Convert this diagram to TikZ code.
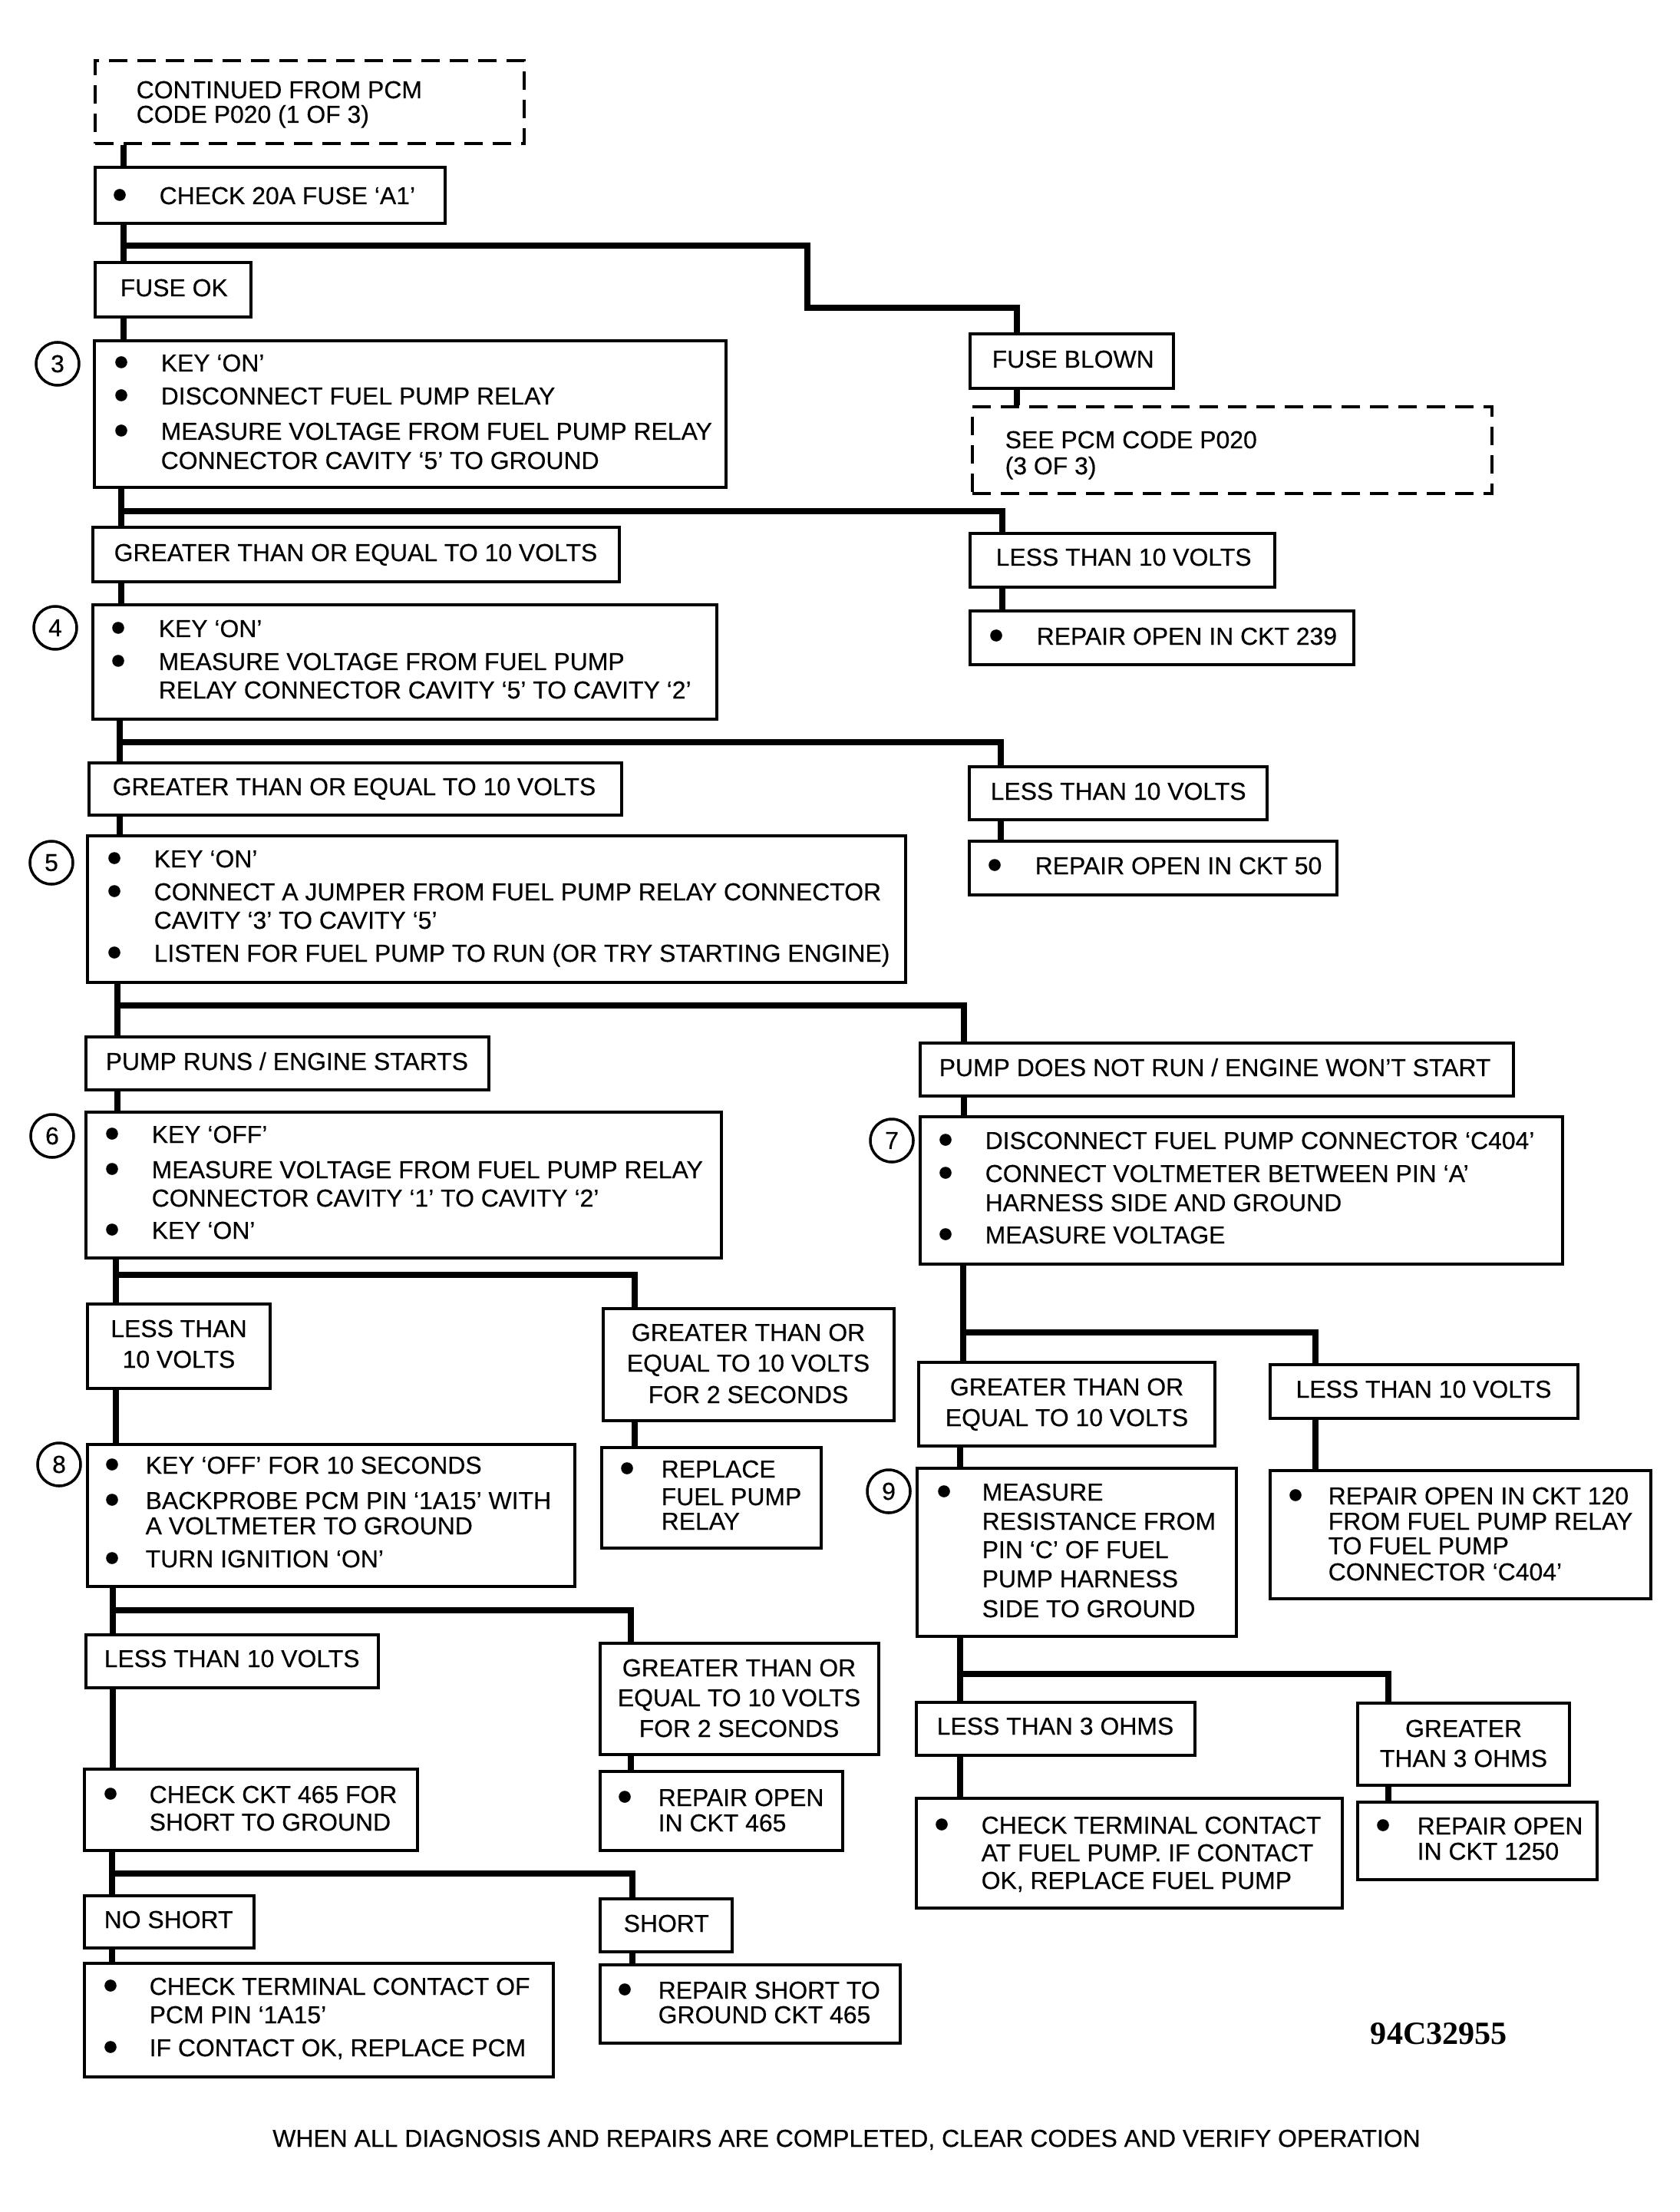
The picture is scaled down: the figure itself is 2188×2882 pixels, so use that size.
\documentclass[tikz,border=0pt]{standalone}
\usepackage{fontspec}
\setmainfont{Liberation Sans}[FakeBold=0.35]
\newfontfamily\idfont{Liberation Serif}
\usetikzlibrary{fit,calc}
\newcommand\fs{\fontsize{9.08pt}{11pt}\selectfont}
% box: name x1 y1 x2 y2
\newcommand\bx[6][box]{\node[#1, fit={(#3,#4)(#5,#6)}] (#2) {};}
% left text line: name x ycenter text
\newcommand\tl[4]{\node[txt,anchor=base west] (#1) at (#2,#3+12) {#4};}
% centred text line
\newcommand\tc[4]{\node[txt,anchor=base] (#1) at (#2,#3+12) {#4};}
% bullet
\newcommand\bu[2]{\fill (#1,#2) circle (0.78mm);}
\begin{document}
\begin{tikzpicture}[x=0.1mm,y=-0.1mm,
  box/.style={draw, line width=1.3pt, inner sep=0pt},
  dbox/.style={draw, line width=1.3pt, dash pattern=on 2.4mm off 1.3mm, inner sep=0pt},
  conn/.style={line width=2.4pt, line join=miter},
  txt/.style={inner sep=0pt, font=\fs},
  num/.style={circle, draw, line width=1pt, minimum size=5.6mm, inner sep=0pt, font=\fs}]
\path[fill=white] (0,0) rectangle (2188,2882);
\useasboundingbox (0,0) rectangle (2188,2882);

% ---------------- boxes (left column)
\bx[dbox]{d1}{124}{79}{683}{187}
\bx{chk}{124}{218}{580}{291}
\bx{fok}{124}{342}{327}{413}
\bx{b3}{123}{444}{946}{635}
\bx{g1}{121}{687}{807}{758}
\bx{b4}{121}{788}{934}{937}
\bx{g2}{116}{994}{810}{1062}
\bx{b5}{114}{1089}{1180}{1280}
\bx{prs}{112}{1351}{637}{1420}
\bx{b6}{112}{1449}{940}{1639}
\bx{lt3}{114}{1699}{352}{1809}
\bx{gs1}{786}{1705}{1165}{1851}
\bx{b8}{114}{1882}{749}{2067}
\bx{rep}{784}{1886}{1070}{2017}
\bx{lt4}{112}{2130}{493}{2199}
\bx{gs2}{782}{2141}{1145}{2286}
\bx{ck}{110}{2305}{544}{2411}
\bx{ro}{782}{2308}{1098}{2411}
\bx{ns}{110}{2470}{331}{2538}
\bx{sh}{782}{2474}{954}{2543}
\bx{ct}{110}{2558}{721}{2706}
\bx{rs}{782}{2560}{1173}{2662}
% ---------------- boxes (right column)
\bx{fb}{1264}{435}{1529}{506}
\bx[dbox]{d2}{1267}{530}{1944}{643}
\bx{lt1}{1264}{695}{1661}{765}
\bx{r239}{1264}{796}{1764}{866}
\bx{lt2}{1263}{999}{1651}{1068}
\bx{r50}{1263}{1096}{1742}{1166}
\bx{pdn}{1199}{1359}{1972}{1428}
\bx{b7}{1199}{1455}{2036}{1647}
\bx{gr}{1197}{1775}{1583}{1884}
\bx{lt5}{1655}{1778}{2056}{1848}
\bx{b9}{1195}{1913}{1611}{2132}
\bx{r120}{1655}{1916}{2151}{2083}
\bx{l3}{1194}{2218}{1557}{2287}
\bx{g3}{1769}{2219}{2045}{2326}
\bx{ctr}{1194}{2343}{1749}{2486}
\bx{r1250}{1769}{2348}{2081}{2449}

% ---------------- step numbers
\node[num] (n3) at (75,474) {3};
\node[num] (n4) at (72,818) {4};
\node[num] (n5) at (67,1124) {5};
\node[num] (n6) at (68,1480) {6};
\node[num] (n8) at (77,1908) {8};
\node[num] (n7) at (1162,1486) {7};
\node[num] (n9) at (1158,1943) {9};

% ---------------- junction coordinates
\coordinate (j1) at (161,320);
\coordinate (k1a) at (1052,320);
\coordinate (k1b) at (1052,401);
\coordinate (k1c) at (1325,401);
\coordinate (j2) at (158,666);
\coordinate (k2) at (1306,666);
\coordinate (j3) at (156,967);
\coordinate (k3) at (1304,967);
\coordinate (j4) at (153,1310);
\coordinate (k4) at (1256,1310);
\coordinate (j5) at (151,1661);
\coordinate (k5) at (827,1661);
\coordinate (j6) at (147,2098);
\coordinate (k6) at (822,2098);
\coordinate (j7) at (146,2441);
\coordinate (k7) at (824,2441);
\coordinate (j8) at (1255,1736);
\coordinate (k8) at (1714,1736);
\coordinate (j9) at (1251,2181);
\coordinate (k9) at (1809,2181);

% ---------------- connectors
\draw[conn] (d1.south -| j1) -- (chk.north -| j1);
\draw[conn] (chk.south -| j1) -- (fok.north -| j1);
\draw[conn] (j1) -- (k1a) -- (k1b) -- (k1c) -- (k1c |- fb.north);
\draw[conn] (fok.south -| j1) -- (b3.north -| j1);
\draw[conn] (fb.south -| k1c) -- (d2.north -| k1c);
\draw[conn] (b3.south -| j2) -- (g1.north -| j2);
\draw[conn] (j2) -- (k2) -- (k2 |- lt1.north);
\draw[conn] (lt1.south -| k2) -- (r239.north -| k2);
\draw[conn] (g1.south -| j2) -- (b4.north -| j2);
\draw[conn] (b4.south -| j3) -- (g2.north -| j3);
\draw[conn] (j3) -- (k3) -- (k3 |- lt2.north);
\draw[conn] (lt2.south -| k3) -- (r50.north -| k3);
\draw[conn] (g2.south -| j3) -- (b5.north -| j3);
\draw[conn] (b5.south -| j4) -- (prs.north -| j4);
\draw[conn] (j4) -- (k4) -- (k4 |- pdn.north);
\draw[conn] (pdn.south -| k4) -- (b7.north -| k4);
\draw[conn] (prs.south -| j4) -- (b6.north -| j4);
\draw[conn] (b6.south -| j5) -- (lt3.north -| j5);
\draw[conn] (j5) -- (k5) -- (k5 |- gs1.north);
\draw[conn] (gs1.south -| k5) -- (rep.north -| k5);
\draw[conn] (lt3.south -| j5) -- (b8.north -| j5);
\draw[conn] (b8.south -| j6) -- (lt4.north -| j6);
\draw[conn] (j6) -- (k6) -- (k6 |- gs2.north);
\draw[conn] (gs2.south -| k6) -- (ro.north -| k6);
\draw[conn] (lt4.south -| j6) -- (ck.north -| j6);
\draw[conn] (ck.south -| j7) -- (ns.north -| j7);
\draw[conn] (j7) -- (k7) -- (k7 |- sh.north);
\draw[conn] (sh.south -| k7) -- (rs.north -| k7);
\draw[conn] (ns.south -| j7) -- (ct.north -| j7);
\draw[conn] (b7.south -| j8) -- (gr.north -| j8);
\draw[conn] (j8) -- (k8) -- (k8 |- lt5.north);
\draw[conn] (lt5.south -| k8) -- (r120.north -| k8);
\draw[conn] (gr.south -| j9) -- (b9.north -| j9);
\draw[conn] (b9.south -| j9) -- (l3.north -| j9);
\draw[conn] (j9) -- (k9) -- (k9 |- g3.north);
\draw[conn] (l3.south -| j9) -- (ctr.north -| j9);
\draw[conn] (g3.south -| k9) -- (r1250.north -| k9);

% ---------------- texts, left column
\tl{d1a}{177}{116}{CONTINUED FROM PCM}
\tl{d1b}{177}{148}{CODE P020 (1 OF 3)}
\bu{156}{254}\tl{chka}{207}{254}{CHECK 20A FUSE ‘A1’}
\tl{foka}{156}{374}{FUSE OK}
\bu{158}{472}\tl{b3a}{209}{472}{KEY ‘ON’}
\bu{158}{515}\tl{b3b}{209}{515}{DISCONNECT FUEL PUMP RELAY}
\bu{158}{561}\tl{b3c}{209}{561}{MEASURE VOLTAGE FROM FUEL PUMP RELAY}
\tl{b3d}{209}{599}{CONNECTOR CAVITY ‘5’ TO GROUND}
\tl{g1a}{148}{719}{GREATER THAN OR EQUAL TO 10 VOLTS}
\bu{154}{818}\tl{b4a}{206}{818}{KEY ‘ON’}
\bu{154}{861}\tl{b4b}{206}{861}{MEASURE VOLTAGE FROM FUEL PUMP}
\tl{b4c}{206}{898}{RELAY CONNECTOR CAVITY ‘5’ TO CAVITY ‘2’}
\tl{g2a}{146}{1024}{GREATER THAN OR EQUAL TO 10 VOLTS}
\bu{149}{1118}\tl{b5a}{200}{1118}{KEY ‘ON’}
\bu{149}{1161}\tl{b5b}{200}{1161}{CONNECT A JUMPER FROM FUEL PUMP RELAY CONNECTOR}
\tl{b5c}{200}{1198}{CAVITY ‘3’ TO CAVITY ‘5’}
\bu{149}{1241}\tl{b5d}{200}{1241}{LISTEN FOR FUEL PUMP TO RUN (OR TRY STARTING ENGINE)}
\tl{prsa}{137}{1382}{PUMP RUNS / ENGINE STARTS}
\bu{146}{1477}\tl{b6a}{197}{1477}{KEY ‘OFF’}
\bu{146}{1523}\tl{b6b}{197}{1523}{MEASURE VOLTAGE FROM FUEL PUMP RELAY}
\tl{b6c}{197}{1560}{CONNECTOR CAVITY ‘1’ TO CAVITY ‘2’}
\bu{146}{1602}\tl{b6d}{197}{1602}{KEY ‘ON’}
\tc{lt3a}{233}{1730}{LESS THAN}
\tc{lt3b}{233}{1770}{10 VOLTS}
\tc{gs1a}{975}{1735}{GREATER THAN OR}
\tc{gs1b}{975}{1775}{EQUAL TO 10 VOLTS}
\tc{gs1c}{975}{1816}{FOR 2 SECONDS}
\bu{146}{1908}\tl{b8a}{189}{1908}{KEY ‘OFF’ FOR 10 SECONDS}
\bu{146}{1954}\tl{b8b}{189}{1954}{BACKPROBE PCM PIN ‘1A15’ WITH}
\tl{b8c}{189}{1987}{A VOLTMETER TO GROUND}
\bu{146}{2030}\tl{b8d}{189}{2030}{TURN IGNITION ‘ON’}
\bu{817}{1913}\tl{repa}{861}{1913}{REPLACE}
\tl{repb}{861}{1949}{FUEL PUMP}
\tl{repc}{861}{1981}{RELAY}
\tl{lt4a}{135}{2160}{LESS THAN 10 VOLTS}
\tc{gs2a}{963}{2172}{GREATER THAN OR}
\tc{gs2b}{963}{2211}{EQUAL TO 10 VOLTS}
\tc{gs2c}{963}{2251}{FOR 2 SECONDS}
\bu{144}{2337}\tl{cka}{194}{2337}{CHECK CKT 465 FOR}
\tl{ckb}{194}{2373}{SHORT TO GROUND}
\bu{814}{2341}\tl{roa}{857}{2341}{REPAIR OPEN}
\tl{rob}{857}{2374}{IN CKT 465}
\tl{nsa}{135}{2500}{NO SHORT}
\tl{sha}{812}{2505}{SHORT}
\bu{144}{2587}\tl{cta}{194}{2587}{CHECK TERMINAL CONTACT OF}
\tl{ctb}{194}{2624}{PCM PIN ‘1A15’}
\bu{144}{2667}\tl{ctc}{194}{2667}{IF CONTACT OK, REPLACE PCM}
\bu{814}{2592}\tl{rsa}{857}{2592}{REPAIR SHORT TO}
\tl{rsb}{857}{2624}{GROUND CKT 465}

% ---------------- texts, right column
\tl{fba}{1292}{467}{FUSE BLOWN}
\tl{d2a}{1309}{572}{SEE PCM CODE P020}
\tl{d2b}{1309}{606}{(3 OF 3)}
\tl{lt1a}{1297}{725}{LESS THAN 10 VOLTS}
\bu{1298}{828}\tl{r239a}{1350}{828}{REPAIR OPEN IN CKT 239}
\tl{lt2a}{1290}{1030}{LESS THAN 10 VOLTS}
\bu{1296}{1127}\tl{r50a}{1348}{1127}{REPAIR OPEN IN CKT 50}
\tl{pdna}{1223}{1390}{PUMP DOES NOT RUN / ENGINE WON’T START}
\bu{1232}{1485}\tl{b7a}{1283}{1485}{DISCONNECT FUEL PUMP CONNECTOR ‘C404’}
\bu{1232}{1528}\tl{b7b}{1283}{1528}{CONNECT VOLTMETER BETWEEN PIN ‘A’}
\tl{b7c}{1283}{1566}{HARNESS SIDE AND GROUND}
\bu{1232}{1608}\tl{b7d}{1283}{1608}{MEASURE VOLTAGE}
\tc{gra}{1390}{1806}{GREATER THAN OR}
\tc{grb}{1390}{1846}{EQUAL TO 10 VOLTS}
\tc{lt5a}{1855}{1809}{LESS THAN 10 VOLTS}
\bu{1230}{1943}\tl{b9a}{1279}{1943}{MEASURE}
\tl{b9b}{1279}{1981}{RESISTANCE FROM}
\tl{b9c}{1279}{2018}{PIN ‘C’ OF FUEL}
\tl{b9d}{1279}{2056}{PUMP HARNESS}
\tl{b9e}{1279}{2095}{SIDE TO GROUND}
\bu{1688}{1948}\tl{r120a}{1730}{1948}{REPAIR OPEN IN CKT 120}
\tl{r120b}{1730}{1981}{FROM FUEL PUMP RELAY}
\tl{r120c}{1730}{2013}{TO FUEL PUMP}
\tl{r120d}{1730}{2047}{CONNECTOR ‘C404’}
\tl{l3a}{1220}{2248}{LESS THAN 3 OHMS}
\tc{g3a}{1907}{2251}{GREATER}
\tc{g3b}{1907}{2290}{THAN 3 OHMS}
\bu{1227}{2377}\tl{ctra}{1278}{2377}{CHECK TERMINAL CONTACT}
\tl{ctrb}{1278}{2413}{AT FUEL PUMP. IF CONTACT}
\tl{ctrc}{1278}{2449}{OK, REPLACE FUEL PUMP}
\bu{1802}{2378}\tl{r1250a}{1846}{2378}{REPAIR OPEN}
\tl{r1250b}{1846}{2411}{IN CKT 1250}

% ---------------- figure id and footer
\node[inner sep=0pt, font=\idfont\bfseries\fontsize{12pt}{14pt}\selectfont] (figid) at (1875,2650) {94C32955};
\tc{foot}{1103}{2785}{WHEN ALL DIAGNOSIS AND REPAIRS ARE COMPLETED, CLEAR CODES AND VERIFY OPERATION}
\end{tikzpicture}
\end{document}
